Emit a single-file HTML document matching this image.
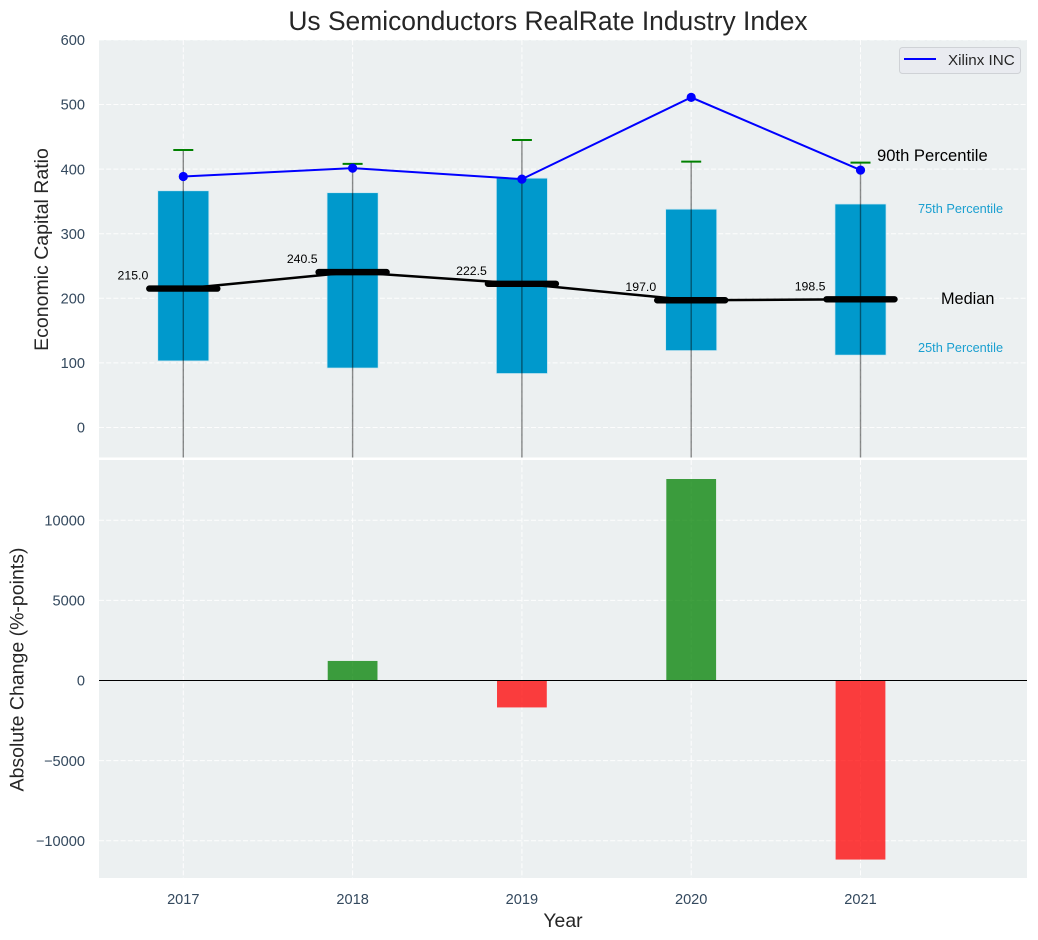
<!DOCTYPE html>
<html lang="en">
<head>
<meta charset="utf-8">
<title>Us Semiconductors RealRate Industry Index</title>
<style>
  html, body { margin: 0; padding: 0; background: #ffffff; }
  #chart { display: block; width: 1038px; height: 940px; font-family: "Liberation Sans", Arial, sans-serif; }
</style>
</head>
<body>
<svg id="chart" xmlns="http://www.w3.org/2000/svg" width="1038" height="940" viewBox="0 0 1038 940">
  <defs>
    <clipPath id="clip-top"><rect x="99" y="40" width="928" height="417.5"></rect></clipPath>
    <clipPath id="clip-bottom"><rect x="99" y="460" width="928" height="418"></rect></clipPath>
  </defs>
  <text x="548" y="30" text-anchor="middle" font-size="26.4" fill="#262626">Us Semiconductors RealRate Industry Index</text>
  <rect x="99" y="40" width="928" height="417.5" fill="#ecf0f1"></rect>
  <rect x="99" y="460" width="928" height="418" fill="#ecf0f1"></rect>
  <g id="top-grid"></g>
  <g id="bottom-grid"></g>
  <g id="top-marks" clip-path="url(#clip-top)"></g>
  <g id="bottom-marks" clip-path="url(#clip-bottom)"></g>
  <g id="labels"></g>
  <text transform="translate(48,249.5) rotate(-90)" text-anchor="middle" font-size="19.5" fill="#262626">Economic Capital Ratio</text>
  <text transform="translate(23.5,669.5) rotate(-90)" text-anchor="middle" font-size="19.5" fill="#262626">Absolute Change (%-points)</text>
  <text x="563" y="927" text-anchor="middle" font-size="19.4" fill="#262626">Year</text>
  <text x="877" y="161" font-size="16.6" fill="#000000">90th Percentile</text>
  <text x="918" y="213" font-size="12.75" fill="#1a9fd0">75th Percentile</text>
  <text x="941" y="304" font-size="16.3" fill="#000000">Median</text>
  <text x="918" y="352" font-size="12.75" fill="#1a9fd0">25th Percentile</text>
  <g>
    <rect x="899.5" y="47.5" width="121" height="26" rx="3" fill="#e9ebf0" stroke="#cfd2d6" stroke-width="1"></rect>
    <line x1="904" y1="59" x2="936" y2="59" stroke="#0000ff" stroke-width="2"></line>
    <text x="948" y="65" font-size="15.2" fill="#262626">Xilinx INC</text>
  </g>
</svg>
<script>
const years = [2017, 2018, 2019, 2020, 2021];
const p25 = [103, 92, 83.5, 119, 112];
const p75 = [366.5, 363.5, 386, 338, 346];
const p90 = [429.5, 408, 445, 411.5, 410];
const p10 = [-60, -60, -60, -60, -60];
const medians = [215.0, 240.5, 222.5, 197.0, 198.5];
const medianLabels = ["215.0", "240.5", "222.5", "197.0", "198.5"];
const company = [388.5, 401.5, 384.5, 511, 398.5];
const changes = [0, 1220, -1680, 12570, -11170];
const topTicks = [0, 100, 200, 300, 400, 500, 600];
const bottomTicks = ["−10000", "−5000", "0", "5000", "10000"];
const bottomTickValues = [-10000, -5000, 0, 5000, 10000];

const NS = "http://www.w3.org/2000/svg";
function xScale(v) { return 183.3 + (v - 2017) * 169.3; }
function yTop(v) { return 427.5 - v * 0.646; }
function yBottom(v) { return 680.5 - v * 0.01603; }
function make(parent, tag, attrs, text) {
  const el = document.createElementNS(NS, tag);
  for (const k in attrs) el.setAttribute(k, attrs[k]);
  if (text !== undefined) el.textContent = text;
  parent.appendChild(el);
  return el;
}
const topGrid = document.getElementById("top-grid");
const bottomGrid = document.getElementById("bottom-grid");
const topMarks = document.getElementById("top-marks");
const bottomMarks = document.getElementById("bottom-marks");
const labels = document.getElementById("labels");
const gridStyle = { stroke: "#ffffff", "stroke-width": 1, "stroke-dasharray": "5 2.2", opacity: 0.9 };

topTicks.forEach(function (t) {
  const y = yTop(t);
  const g = make(topGrid, "line", Object.assign({ x1: 99, x2: 1027, y1: y, y2: y }, gridStyle));
  
  
  const l = make(labels, "text", { x: 85, y: y + 5.2, "text-anchor": "end", "font-size": 14.6, fill: "#34495e" }, String(t));
  
  
});
bottomTickValues.forEach(function (t, i) {
  const y = yBottom(t);
  const g = make(bottomGrid, "line", Object.assign({ x1: 99, x2: 1027, y1: y, y2: y }, gridStyle));
  
  
  const l = make(labels, "text", { x: 85, y: y + 5.2, "text-anchor": "end", "font-size": 14.6, fill: "#34495e" }, bottomTicks[i]);
  
  
});
years.forEach(function (yr) {
  const x = xScale(yr);
  const a = make(topGrid, "line", Object.assign({ x1: x, x2: x, y1: 40, y2: 457.5 }, gridStyle));
  
  
  const b = make(bottomGrid, "line", Object.assign({ x1: x, x2: x, y1: 460, y2: 878 }, gridStyle));
  
  
  const l = make(labels, "text", { x: x, y: 904, "text-anchor": "middle", "font-size": 14.6, fill: "#34495e" }, String(yr));
  
  
});

years.forEach(function (yr, i) {
  const hw = 0.151 * 169.3;
  const x = xScale(yr);
  const box = make(topMarks, "rect", { x: x - hw, y: yTop(p75[i]), width: hw * 2, height: yTop(p25[i]) - yTop(p75[i]), fill: "#0099cc", stroke: "#cfe8f1", "stroke-width": 0.8 });
  
  
});
years.forEach(function (yr, i) {
  const x = xScale(yr);
  const w = make(topMarks, "line", { x1: x, x2: x, y1: yTop(p90[i]), y2: yTop(p10[i]), stroke: "#000000", "stroke-opacity": 0.45, "stroke-width": 1.4 });
  
  
  const c = make(topMarks, "line", { x1: x - 10, x2: x + 10, y1: yTop(p90[i]), y2: yTop(p90[i]), stroke: "#008000", "stroke-width": 2 });
  
  
});
const medianPath = make(topMarks, "polyline", { points: years.map(function (yr, i) { return xScale(yr) + "," + yTop(medians[i]); }).join(" "), fill: "none", stroke: "#000000", "stroke-width": 2.5 });


years.forEach(function (yr, i) {
  const x = xScale(yr);
  const y = yTop(medians[i]);
  const m = make(topMarks, "line", { x1: x - 34, x2: x + 34, y1: y, y2: y, stroke: "#000000", "stroke-width": 6.4, "stroke-linecap": "round" });
  
  
  const t = make(labels, "text", { x: x - 35, y: y - 9, "text-anchor": "end", "font-size": 12.3, fill: "#000000" }, medianLabels[i]);
  
  
});
const companyPath = make(topMarks, "polyline", { points: years.map(function (yr, i) { return xScale(yr) + "," + yTop(company[i]); }).join(" "), fill: "none", stroke: "#0000ff", "stroke-width": 2 });


years.forEach(function (yr, i) {
  const p = make(topMarks, "circle", { cx: xScale(yr), cy: yTop(company[i]), r: 4.6, fill: "#0000ff" });
  
  
});
years.forEach(function (yr, i) {
  if (!changes[i]) return;
  const x = xScale(yr);
  const hw = 0.147 * 169.3;
  const y0 = yBottom(0);
  const y1 = yBottom(changes[i]);
  const r = make(bottomMarks, "rect", { x: x - hw, y: Math.min(y0, y1), width: hw * 2, height: Math.abs(y1 - y0), fill: changes[i] > 0 ? "#008000" : "#ff0000", "fill-opacity": 0.75 });
  
  
});
const zero = make(bottomMarks, "line", { x1: 99, x2: 1027, y1: yBottom(0), y2: yBottom(0), stroke: "#000000", "stroke-width": 1.1 });


</script>
</body>
</html>
